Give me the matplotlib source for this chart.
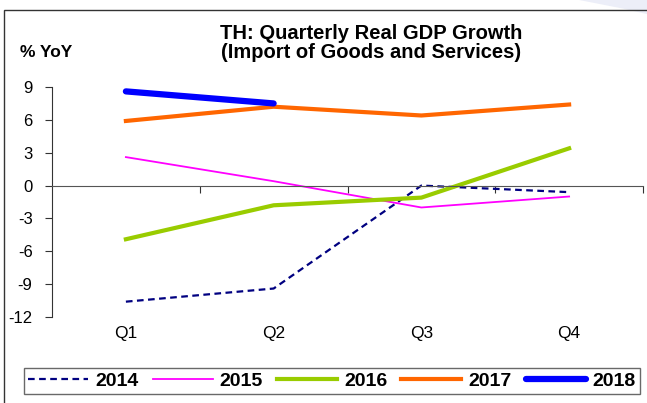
import matplotlib.pyplot as plt
from matplotlib.patches import Rectangle, Polygon

plt.rcParams['font.family'] = ['Liberation Sans', 'DejaVu Sans']

quarters = ['Q1', 'Q2', 'Q3', 'Q4']
yoy_2014 = [-10.6, -9.4, 0.0, -0.6]
yoy_2015 = [2.6, 0.4, -2.0, -1.0]
yoy_2016 = [-4.9, -1.8, -1.1, 3.4]
yoy_2017 = [5.9, 7.2, 6.4, 7.4]
yoy_2018 = [8.6, 7.5]
y_ticks = [9, 6, 3, 0, -3, -6, -9, -12]

fig = plt.figure(figsize=(6.47, 4.03), dpi=100)

# outer frame and corner decoration
fig.patches.append(Polygon([(0.895, 1.0), (1.0, 1.0), (1.0, 0.965), (0.965, 0.978)],
                           closed=True, transform=fig.transFigure,
                           facecolor='#eceef8', edgecolor='none', zorder=0))
fig.patches.append(Rectangle((0.006, -0.1), 1.2, 1.075, transform=fig.transFigure,
                             facecolor='none', edgecolor='#333333', lw=1.0))

ax = fig.add_axes([0.0804, 0.2134, 0.9134, 0.5707])
x = list(range(len(quarters)))

ax.plot(x, yoy_2014, color='#000080', lw=1.6, ls=(0, (3.0, 2.0)), label='2014')
ax.plot(x, yoy_2015, color='#ff00ff', lw=1.3, label='2015')
ax.plot(x, yoy_2016, color='#99cc00', lw=3.0, label='2016')
ax.plot(x, yoy_2017, color='#ff6600', lw=3.0, label='2017')
ax.plot(x[:len(yoy_2018)], yoy_2018, color='#0000ff', lw=4.5,
        solid_capstyle='round', label='2018')

ax.set_xlim(-0.5, 3.5)
ax.set_ylim(-12, 9)
ax.set_yticks(y_ticks)
ax.set_yticklabels([str(v) for v in y_ticks], fontsize=12)
ax.tick_params(axis='y', direction='out', length=5, width=0.8, pad=9, colors='#333333',
               labelcolor='black')

# category axis sits at zero, labels stay below the plot
ax.spines['bottom'].set_position(('data', 0))
ax.spines['bottom'].set_color('#555555')
ax.spines['left'].set_color('#333333')
ax.spines['top'].set_visible(False)
ax.spines['right'].set_visible(False)
ax.set_xticks([i + 0.5 for i in x])
ax.set_xticklabels([])
ax.tick_params(axis='x', direction='out', length=5, width=0.8, colors='#333333')
for i, q in enumerate(quarters):
    ax.text(i, -12.85, q, ha='center', va='top', fontsize=12.5)

fig.text(0.574, 0.918, 'TH: Quarterly Real GDP Growth', ha='center', va='center',
         fontsize=14.5, fontweight='bold')
fig.text(0.574, 0.870, '(Import of Goods and Services)', ha='center', va='center',
         fontsize=14.5, fontweight='bold')
fig.text(0.031, 0.870, '% YoY', ha='left', va='center', fontsize=12.5, fontweight='bold')

leg = fig.legend(loc='center', bbox_to_anchor=(332 / 647, 0.0546), ncol=5, frameon=True,
                 fancybox=False, edgecolor='#444444', handlelength=3.1,
                 columnspacing=0.72, handletextpad=0.35, borderpad=0.2,
                 borderaxespad=0, prop={'weight': 'bold', 'size': 14})
leg.get_frame().set_linewidth(1.0)

plt.savefig('out.png', dpi=100)
